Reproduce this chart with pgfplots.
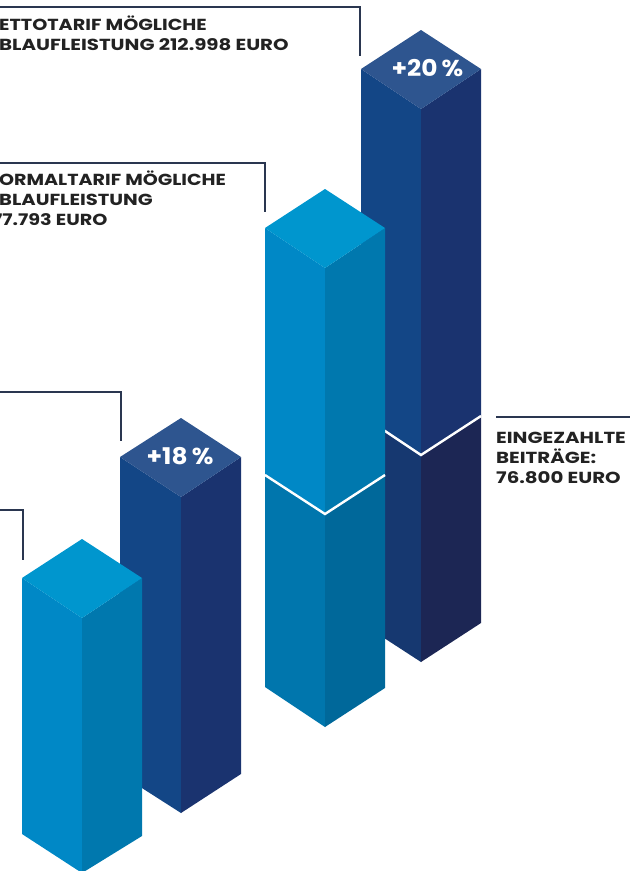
\documentclass[border=0pt]{standalone}
\usepackage{fontspec}
\setmainfont{Poppins}
\usepackage{pgfplots}
\pgfplotsset{compat=1.18}
\definecolor{lighttop}{HTML}{0096CE}
\definecolor{lightleft}{HTML}{0088C6}
\definecolor{lightright}{HTML}{0078AE}
\definecolor{lightlowleft}{HTML}{0076AD}
\definecolor{lightlowright}{HTML}{00689A}
\definecolor{darktop}{HTML}{2E558F}
\definecolor{darkleft}{HTML}{134686}
\definecolor{darkright}{HTML}{1A336F}
\definecolor{darklowleft}{HTML}{163870}
\definecolor{darklowright}{HTML}{1C2654}
\definecolor{leader}{HTML}{2A3650}
\definecolor{txt}{HTML}{222222}
\tikzset{
  txtlab/.style={anchor=base west, font=\fontsize{16}{18}\selectfont\bfseries, text=txt, inner sep=0pt},
  pct/.style={anchor=center, font=\fontsize{23}{26}\selectfont\bfseries, text=white, inner sep=0pt},
}
\newcommand{\wide}[2][1.235]{\scalebox{#1}[1]{#2}}
\begin{document}
\begin{tikzpicture}
  \useasboundingbox (0,0) rectangle (630pt,871pt);
  \clip (0,0) rectangle (630pt,871pt);
  \begin{axis}[
    at={(0,0)}, anchor=south west,
    width=630pt, height=871pt, scale only axis,
    xmin=0, xmax=630, ymin=0, ymax=871,
    y dir=reverse, hide axis,
    every axis plot/.append style={no markers},
  ]
    % right pair, dark bar
    \addplot[fill=darkleft, draw=none] coordinates {(361,69) (421,109) (421,455) (361,415)};
    \addplot[fill=darkright, draw=none] coordinates {(421,109) (481,69) (481,416) (421,455)};
    \addplot[fill=darklowleft, draw=none] coordinates {(361,415) (421,455) (421,662) (361,623)};
    \addplot[fill=darklowright, draw=none] coordinates {(421,455) (481,416) (481,623) (421,662)};
    \addplot[fill=darktop, draw=none] coordinates {(421,30) (481,69) (421,109) (361,69)};
    \addplot[white, line width=2.4pt] coordinates {(361,415) (421,455) (481,416)};
    % right pair, light bar
    \addplot[fill=lightleft, draw=none] coordinates {(265,228) (325,268) (325,514) (265,475)};
    \addplot[fill=lightright, draw=none] coordinates {(325,268) (385,228) (385,475) (325,514)};
    \addplot[fill=lightlowleft, draw=none] coordinates {(265,475) (325,514) (325,727) (265,687)};
    \addplot[fill=lightlowright, draw=none] coordinates {(325,514) (385,475) (385,688) (325,727)};
    \addplot[fill=lighttop, draw=none] coordinates {(325,189) (385,228) (325,268) (265,228)};
    \addplot[white, line width=2.4pt] coordinates {(265,475) (325,514) (385,475)};
    % left pair, dark bar
    \addplot[fill=darkleft, draw=none] coordinates {(120,457) (181,497) (181,813) (120,774)};
    \addplot[fill=darkright, draw=none] coordinates {(181,497) (241,457) (241,774) (181,813)};
    \addplot[fill=darktop, draw=none] coordinates {(181,418) (241,457) (181,497) (120,457)};
    % left pair, light bar
    \addplot[fill=lightleft, draw=none] coordinates {(22,578) (82,618) (82,873) (22,834)};
    \addplot[fill=lightright, draw=none] coordinates {(82,618) (142,578) (142,836) (82,873)};
    \addplot[fill=lighttop, draw=none] coordinates {(82,539) (142,578) (82,618) (22,578)};
    % leader lines
    \addplot[leader, line width=1.5pt] coordinates {(0,7) (360,7) (360,56)};
    \addplot[leader, line width=1.5pt] coordinates {(0,163) (265,163) (265,212)};
    \addplot[leader, line width=1.5pt] coordinates {(0,392) (121,392) (121,441)};
    \addplot[leader, line width=1.5pt] coordinates {(0,510) (23,510) (23,560)};
    \addplot[leader, line width=1.5pt] coordinates {(496,417) (630,417)};
    % labels
    \node[txtlab] at (axis cs:-1,30) {\wide[1.2]{ETTOTARIF MÖGLICHE}};
    \node[txtlab] at (axis cs:-1,50) {\wide{BLAUFLEISTUNG 212.998 EURO}};
    \node[txtlab] at (axis cs:-1,185) {\wide[1.193]{ORMALTARIF MÖGLICHE}};
    \node[txtlab] at (axis cs:-1,205) {\wide[1.22]{BLAUFLEISTUNG}};
    \node[txtlab] at (axis cs:-8,225) {\wide[1.2]{77.793 EURO}};
    \node[txtlab] at (axis cs:496,443) {\wide{EINGEZAHLTE}};
    \node[txtlab] at (axis cs:496,463) {\wide{BEITRÄGE:}};
    \node[txtlab] at (axis cs:496,483) {\wide{76.800 EURO}};
    \node[pct] at (axis cs:427.5,68) {\scalebox{1.08}[1]{+20\,\%}};
    \node[pct] at (axis cs:180,456) {\scalebox{1.08}[1]{+18\,\%}};
  \end{axis}
\end{tikzpicture}
\end{document}
